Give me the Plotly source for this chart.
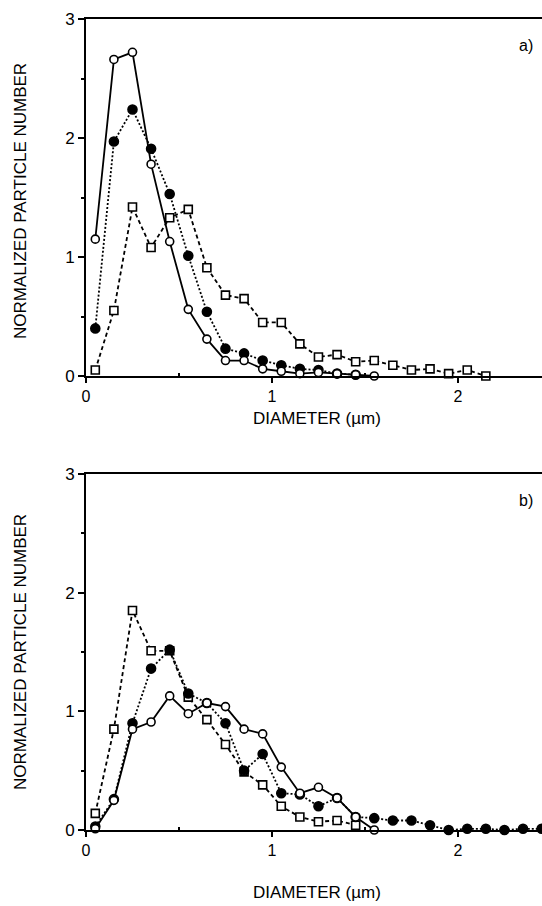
import plotly.graph_objects as go

# ---- data ----
diam = [0.05, 0.15, 0.25, 0.35, 0.45, 0.55, 0.65, 0.75, 0.85, 0.95, 1.05, 1.15,
        1.25, 1.35, 1.45, 1.55, 1.65, 1.75, 1.85, 1.95, 2.05, 2.15, 2.25, 2.35, 2.45]

a_open = [1.15, 2.66, 2.72, 1.78, 1.13, 0.56, 0.31, 0.13, 0.13, 0.06, 0.04, 0.02, 0.03, 0.02, 0.01, 0.0]
a_filled = [0.40, 1.97, 2.24, 1.91, 1.53, 1.01, 0.54, 0.23, 0.19, 0.13, 0.09, 0.06, 0.05, 0.02, 0.01]
a_square = [0.05, 0.55, 1.42, 1.08, 1.33, 1.40, 0.91, 0.68, 0.65, 0.45, 0.45, 0.27, 0.16, 0.18,
            0.12, 0.13, 0.09, 0.05, 0.06, 0.02, 0.05, 0.0]

b_open = [0.01, 0.25, 0.85, 0.91, 1.13, 0.98, 1.07, 1.04, 0.85, 0.81, 0.53, 0.31, 0.36, 0.27, 0.11, 0.0]
b_filled = [0.03, 0.26, 0.90, 1.36, 1.52, 1.15, 1.07, 0.90, 0.50, 0.64, 0.31, 0.30, 0.20, 0.27,
            0.11, 0.10, 0.08, 0.08, 0.04, 0.0, 0.01, 0.01, 0.0, 0.01, 0.01]
b_square = [0.14, 0.85, 1.85, 1.51, 1.51, 1.12, 0.93, 0.72, 0.49, 0.38, 0.20, 0.11, 0.07, 0.08, 0.04]

y_ticks = [0, 1, 2, 3]
x_ticks = [0, 1, 2]
panel_labels = ["a)", "b)"]
x_title = "DIAMETER (µm)"
y_title = "NORMALIZED PARTICLE NUMBER"

FONT = "Liberation Sans, Arial, Helvetica, sans-serif"
W, H = 542, 906

fig = go.Figure()


def add_series(xs, ys, xa, ya, dash, symbol, fill, size):
    fig.add_trace(go.Scatter(
        x=xs[:len(ys)], y=ys, xaxis=xa, yaxis=ya, mode="lines+markers",
        line=dict(color="black", width=1.8, dash=dash),
        marker=dict(symbol=symbol, size=size, color=fill,
                    line=dict(color="black", width=1.6)),
        cliponaxis=False, showlegend=False))


# panel a
add_series(diam, a_square, "x", "y", "4px,3px", "square", "white", 8)
add_series(diam, a_filled, "x", "y", "2px,2px", "circle", "black", 9)
add_series(diam, a_open, "x", "y", "solid", "circle", "white", 8)
# panel b
add_series(diam, b_square, "x2", "y2", "4px,3px", "square", "white", 8)
add_series(diam, b_filled, "x2", "y2", "2px,2px", "circle", "black", 9)
add_series(diam, b_open, "x2", "y2", "solid", "circle", "white", 8)

x0 = 86 / W
ya_dom = [1 - 376 / H, 1 - 19 / H]
yb_dom = [1 - 830 / H, 1 - 474 / H]

xcommon = dict(range=[0, 2.452], tickvals=x_ticks, ticks="outside", ticklen=5,
               tickwidth=1.5, tickcolor="black", showline=True, linecolor="black",
               linewidth=2, mirror=True, showgrid=False, zeroline=False,
               tickfont=dict(family=FONT, size=16, color="black"), automargin=False,
               minor=dict(tickvals=[0.5, 1.5], ticks="inside", ticklen=3, tickcolor="black"))
ycommon = dict(range=[0, 3], tickvals=y_ticks, ticks="outside", ticklen=6,
               tickwidth=1.5, tickcolor="black", showline=True, linecolor="black",
               linewidth=2, showgrid=False, zeroline=False,
               tickfont=dict(family=FONT, size=17, color="black"), automargin=False,
               minor=dict(tickvals=[0.5, 1.5, 2.5], ticks="outside", ticklen=3, tickcolor="black"))

fig.update_layout(
    width=W, height=H, margin=dict(l=0, r=0, t=0, b=0),
    paper_bgcolor="white", plot_bgcolor="white",
    xaxis=dict(domain=[x0, 1], anchor="y", **xcommon),
    yaxis=dict(domain=ya_dom, anchor="x", **ycommon),
    xaxis2=dict(domain=[x0, 1], anchor="y2", **xcommon),
    yaxis2=dict(domain=yb_dom, anchor="x2", **ycommon),
)

ann = []
for lbl, ypx_t, ypx_x, ypx_c in [(panel_labels[0], 45, 418, 201), (panel_labels[1], 500, 892, 652)]:
    ann.append(dict(text=lbl, x=526 / W, y=1 - ypx_t / H, xref="paper", yref="paper",
                    xanchor="center", yanchor="middle",
                    showarrow=False, font=dict(family=FONT, size=16, color="black")))
    ann.append(dict(text=x_title, x=317 / W, y=1 - ypx_x / H, xref="paper", yref="paper",
                    xanchor="center", yanchor="middle",
                    showarrow=False, font=dict(family=FONT, size=17, color="black")))
    ann.append(dict(text=y_title, x=20 / W, y=1 - ypx_c / H, xref="paper", yref="paper",
                    xanchor="center", yanchor="middle",
                    textangle=-90, showarrow=False,
                    font=dict(family=FONT, size=17, color="black")))
fig.update_layout(annotations=ann)

fig.write_html("out.html")
